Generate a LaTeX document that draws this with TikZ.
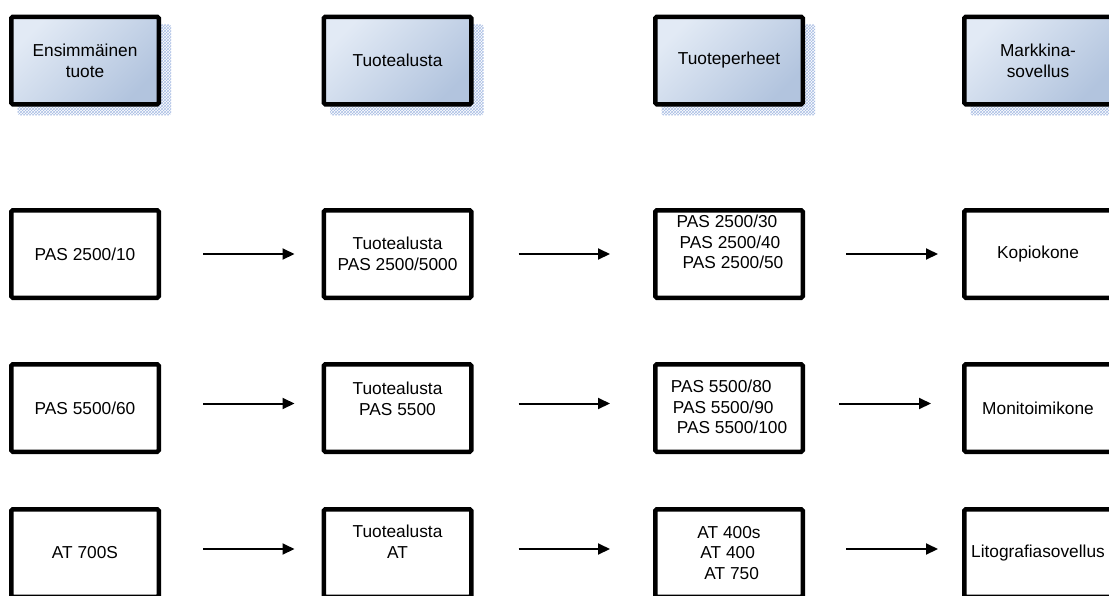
\documentclass[tikz,border=0pt]{standalone}
\usepackage{fontspec}
\setmainfont{Liberation Sans}
\usetikzlibrary{positioning,arrows.meta,patterns,shadows}
\definecolor{headlight}{HTML}{E2EAF5}
\definecolor{headdark}{HTML}{B2C4DE}
\definecolor{gridblue}{HTML}{A9BDE3}

\begin{document}
\begin{tikzpicture}[
    x=1pt, y=-1pt,
    box/.style={rectangle, draw, line width=4.5pt, rounded corners=1.5pt, minimum width=147.5pt, minimum height=87.5pt, inner sep=0pt, align=center, font=\fontsize{17.3}{20.8}\selectfont},
    head/.style={box, top color=headlight, bottom color=headdark, shading angle=45,
        general shadow={shadow xshift=9pt, shadow yshift=-9pt, shadow scale=1.04, pattern=crosshatch, pattern color=gridblue}},
    txt/.style={inner sep=0pt, align=left, font=\fontsize{17.3}{20.8}\selectfont},
    flow/.style={line width=2pt, -{Triangle[length=12pt, width=11pt]}}
]
\clip (0,0) rectangle (1109,595);

% column headings
\node[head] (h1) at (85,60.5) {Ensimmäinen\\tuote};
\node[head] (h2) at (397.5,60.5) {Tuotealusta};
\node[head] (h3) at (729,60.5) {Tuoteperheet};
\node[head] (h4) at (1038,60.5) {Markkina-\\sovellus};

% PAS 2500
\node[box] (p11) at (85,254) {PAS 2500/10};
\node[box] (p12) at (397.5,254) {Tuotealusta\\PAS 2500/5000};
\node[box] (p13) at (729,254) {};
\node[txt] (t13) at ([shift={(1pt,12pt)}]p13.center) {PAS 2500/30\\\hspace*{3pt}PAS 2500/40\\\hspace*{6pt}PAS 2500/50};
\node[box] (p14) at (1038,254) {Kopiokone};

% PAS 5500
\node[box] (p21) at (85,408) {PAS 5500/60};
\node[box] (p22) at (397.5,408) {};
\node[txt, align=center] (t22) at ([yshift=9pt]p22.center) {Tuotealusta\\PAS 5500};
\node[box] (p23) at (729,408) {};
\node[txt] (t23) at ([yshift=1pt]p23.center) {PAS 5500/80\\\hspace*{2pt}PAS 5500/90\\\hspace*{6pt}PAS 5500/100};
\node[box] (p24) at (1038,408) {Monitoimikone};

% AT
\node[box] (p31) at (85,553) {AT 700S};
\node[box] (p32) at (397.5,553) {};
\node[txt, align=center] (t32) at ([yshift=11pt]p32.center) {Tuotealusta\\AT};
\node[box] (p33) at (729,553) {};
\node[txt] (t33) at (p33.center) {AT 400s\\\hspace*{3pt}AT 400\\\hspace*{7pt}AT 750};
\node[box] (p34) at (1038,553) {Litografiasovellus};

\draw[flow] ([xshift=42pt]p11.east) -- ([xshift=-27pt]p12.west);
\draw[flow] ([xshift=45pt]p12.east) -- ([xshift=-43pt]p13.west);
\draw[flow] ([xshift=41pt]p13.east) -- ([xshift=-24pt]p14.west);

\draw[flow] ([shift={(42pt,4.5pt)}]p21.east) -- ([shift={(-27pt,4.5pt)}]p22.west);
\draw[flow] ([shift={(45pt,4.5pt)}]p22.east) -- ([shift={(-43pt,4.5pt)}]p23.west);
\draw[flow] ([shift={(34pt,4.5pt)}]p23.east) -- ([shift={(-31pt,4.5pt)}]p24.west);

\draw[flow] ([shift={(42pt,4pt)}]p31.east) -- ([shift={(-27pt,4pt)}]p32.west);
\draw[flow] ([shift={(45pt,4pt)}]p32.east) -- ([shift={(-43pt,4pt)}]p33.west);
\draw[flow] ([shift={(41pt,4pt)}]p33.east) -- ([shift={(-24pt,4pt)}]p34.west);
\end{tikzpicture}
\end{document}
